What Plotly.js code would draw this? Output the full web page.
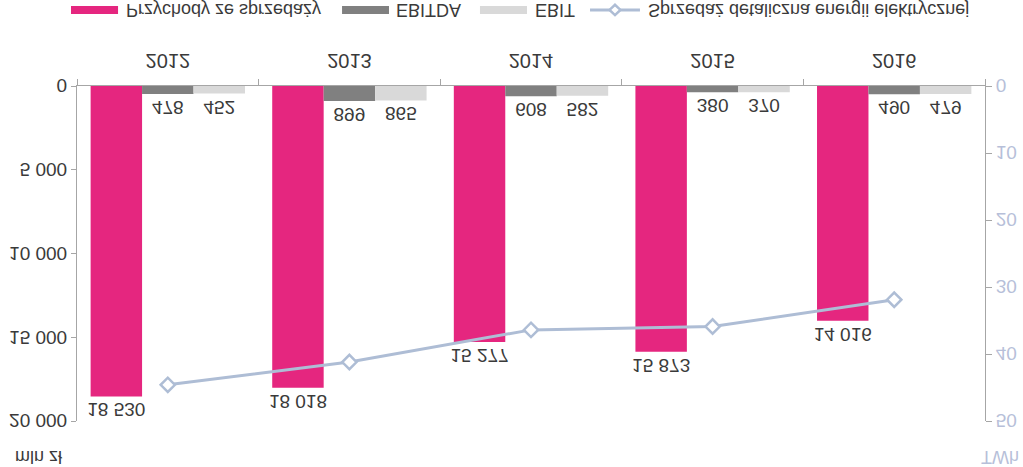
<!DOCTYPE html>
<html>
<head>
<meta charset="utf-8">
<script src="https://cdn.plot.ly/plotly-3.0.1.min.js"></script>
<style>
  html, body { margin: 0; padding: 0; background: #ffffff; }
  #chart { width: 1023px; height: 467px; transform: scaleY(-1); transform-origin: 50% 50%; }
</style>
</head>
<body>
<div id="chart"></div>
<script>
const years = ['2012', '2013', '2014', '2015', '2016'];
const revenue = [18530, 18018, 15277, 15873, 14016];
const ebitda = [478, 899, 608, 380, 490];
const ebit = [452, 865, 582, 370, 479];
const retailTWh = [44.6, 41.2, 36.4, 35.9, 31.9];
const leftTicks = [0, 5000, 10000, 15000, 20000];
const leftTickText = ['0', '5 000', '10 000', '15 000', '20 000'];
const rightTicks = [0, 10, 20, 30, 40, 50];
const seriesNames = ['Przychody ze sprzedaży', 'EBITDA', 'EBIT', 'Sprzedaż detaliczna energii elektrycznej'];
const unitLeft = 'mln zł';
const unitRight = 'TWh';

const FONT = 'Liberation Sans, Arial, sans-serif';
const TXT = '#3a3a3a';
const PINK = '#e5267f';
const DARK = '#808080';
const LIGHT = '#d9d9d9';
const LINEC = '#aebdd5';
const AXIS2 = '#b7bfd9';

const barText = {
  textposition: 'outside',
  texttemplate: '%{y:,d}',
  textfont: {family: FONT, size: 19, color: TXT},
  constraintext: 'none',
  cliponaxis: false,
  hoverinfo: 'skip'
};

const traces = [
  Object.assign({type: 'bar', name: seriesNames[0], x: years, y: revenue, marker: {color: PINK}}, barText),
  Object.assign({type: 'bar', name: seriesNames[1], x: years, y: ebitda, marker: {color: DARK}}, barText),
  Object.assign({type: 'bar', name: seriesNames[2], x: years, y: ebit, marker: {color: LIGHT}}, barText),
  {type: 'scatter', mode: 'lines+markers', name: seriesNames[3], x: years, y: retailTWh, yaxis: 'y2',
   line: {color: LINEC, width: 3},
   marker: {symbol: 'diamond', size: 11, color: '#ffffff', line: {color: LINEC, width: 2.5}},
   cliponaxis: false}
];

// legend geometry (paper coordinates)
const ly = -0.227, lh = 0.012;
const shapes = [
  {type: 'rect', xref: 'paper', yref: 'paper', x0: -0.0066, x1: 0.0452, y0: ly - lh, y1: ly + lh, fillcolor: PINK, line: {width: 0}},
  {type: 'rect', xref: 'paper', yref: 'paper', x0: 0.2919, x1: 0.3436, y0: ly - lh, y1: ly + lh, fillcolor: DARK, line: {width: 0}},
  {type: 'rect', xref: 'paper', yref: 'paper', x0: 0.4438, x1: 0.4956, y0: ly - lh, y1: ly + lh, fillcolor: LIGHT, line: {width: 0}},
  {type: 'line', xref: 'paper', yref: 'paper', x0: 0.5650, x1: 0.6200, y0: ly, y1: ly, line: {color: LINEC, width: 3}},
  {type: 'path', xref: 'paper', yref: 'paper',
   path: 'M 0.5925,' + (ly + 0.0155) + ' L 0.5985,' + ly + ' L 0.5925,' + (ly - 0.0155) + ' L 0.5865,' + ly + ' Z',
   fillcolor: '#ffffff', line: {color: LINEC, width: 2.5}}
];

const legFont = {family: FONT, size: 18, color: TXT};
const annotations = [
  {xref: 'paper', yref: 'paper', x: 0.0518, y: ly, xanchor: 'left', yanchor: 'middle', text: seriesNames[0], showarrow: false, font: legFont},
  {xref: 'paper', yref: 'paper', x: 0.3491, y: ly, xanchor: 'left', yanchor: 'middle', text: seriesNames[1], showarrow: false, font: legFont},
  {xref: 'paper', yref: 'paper', x: 0.5022, y: ly, xanchor: 'left', yanchor: 'middle', text: seriesNames[2], showarrow: false, font: legFont},
  {xref: 'paper', yref: 'paper', x: 0.6267, y: ly, xanchor: 'left', yanchor: 'middle', text: seriesNames[3], showarrow: false, font: legFont},
  {xref: 'paper', yref: 'paper', x: -0.0429, y: 1.108, xanchor: 'center', yanchor: 'middle', text: unitLeft, showarrow: false, font: {family: FONT, size: 18, color: TXT}},
  {xref: 'paper', yref: 'paper', x: 1.0165, y: 1.108, xanchor: 'center', yanchor: 'middle', text: unitRight, showarrow: false, font: {family: FONT, size: 18, color: AXIS2}}
];

const layout = {
  width: 1023, height: 467,
  margin: {l: 77, r: 38, t: 46, b: 86, pad: 0},
  paper_bgcolor: '#ffffff', plot_bgcolor: '#ffffff',
  separators: ', ',
  showlegend: false,
  barmode: 'group', bargap: 0.15, bargroupgap: 0,
  font: {family: FONT, size: 19, color: TXT},
  xaxis: {
    type: 'category', tickson: 'boundaries', ticks: 'outside', ticklen: 6, tickcolor: '#a6a6a6',
    showline: true, linecolor: '#a6a6a6', linewidth: 1, showgrid: false, zeroline: false,
    tickfont: {family: FONT, size: 20, color: TXT}, ticklabelstandoff: 7
  },
  yaxis: {
    range: [0, 20000], tickvals: leftTicks, ticktext: leftTickText,
    ticks: 'outside', ticklen: 5, tickcolor: '#a6a6a6',
    showline: true, linecolor: '#a6a6a6', linewidth: 1, showgrid: false, zeroline: false,
    tickfont: {family: FONT, size: 19, color: TXT}
  },
  yaxis2: {
    overlaying: 'y', side: 'right', range: [0, 50], tickvals: rightTicks,
    ticks: 'outside', ticklen: 6, tickcolor: '#a6a6a6',
    showline: true, linecolor: '#a6a6a6', linewidth: 1, showgrid: false, zeroline: false,
    tickfont: {family: FONT, size: 19, color: AXIS2}
  },
  shapes: shapes,
  annotations: annotations
};

Plotly.newPlot('chart', traces, layout, {staticPlot: true, displayModeBar: false});
</script>
</body>
</html>
